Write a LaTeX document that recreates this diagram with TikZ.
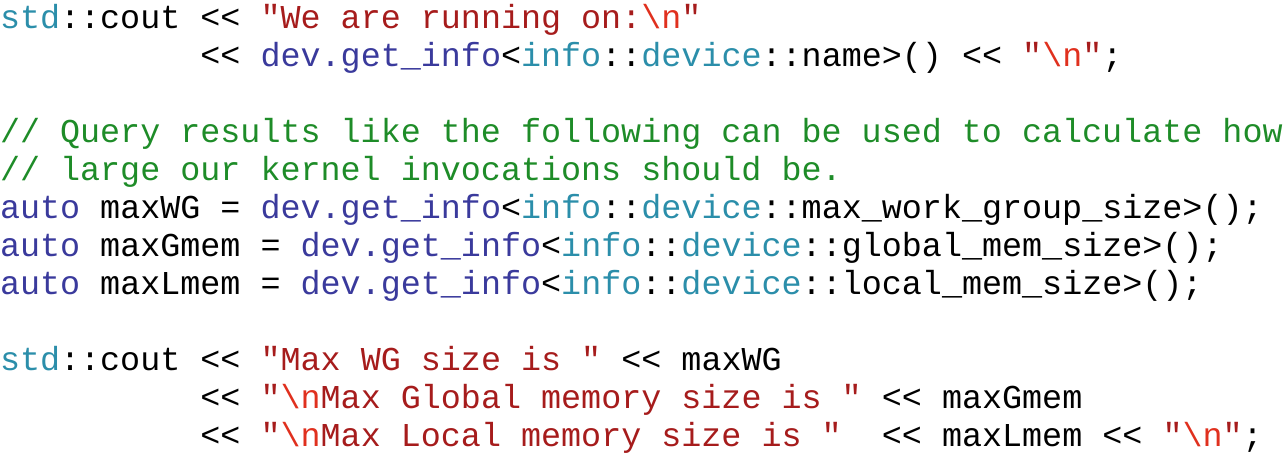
\documentclass[tikz,border=0pt]{standalone}
\usepackage{fontspec}
\newfontfamily\codefont{Liberation Mono}
\definecolor{cteal}{HTML}{2B8EAA}
\definecolor{cblue}{HTML}{3A3A9C}
\definecolor{cstr}{HTML}{A61C1C}
\definecolor{cesc}{HTML}{E0301E}
\definecolor{ccom}{HTML}{1E8C28}
\newcommand{\ty}[1]{\textcolor{cteal}{#1}}
\newcommand{\kw}[1]{\textcolor{cblue}{#1}}
\newcommand{\st}[1]{\textcolor{cstr}{#1}}
\newcommand{\es}{\textcolor{cesc}{\textbackslash n}}
\newcommand{\cm}[1]{\textcolor{ccom}{#1}}
\tikzset{codeline/.style={anchor=base west, inner sep=0pt, outer sep=0pt, text=black,
  font=\codefont\fontsize{33.4}{38}\selectfont}}
\begin{document}
\begin{tikzpicture}[x=1pt,y=1pt]
\useasboundingbox (0,0) rectangle (1284,-467);
\node[codeline] (l1) at (0,-28.5) {\ty{std}::cout~<<~\st{"We~are~running~on:}\es\st{"}};
\node[codeline] (l2) at (0,-66.5) {~~~~~~~~~~<<~\kw{dev.get\_info}<\ty{info}::\ty{device}::name>()~<<~\st{"}\es\st{"};};
\node[codeline] (l4) at (0,-142.5) {\cm{//~Query~results~like~the~following~can~be~used~to~calculate~how}};
\node[codeline] (l5) at (0,-180.5) {\cm{//~large~our~kernel~invocations~should~be.}};
\node[codeline] (l6) at (0,-218.5) {\kw{auto}~maxWG~=~\kw{dev.get\_info}<\ty{info}::\ty{device}::max\_work\_group\_size>();};
\node[codeline] (l7) at (0,-256.5) {\kw{auto}~maxGmem~=~\kw{dev.get\_info}<\ty{info}::\ty{device}::global\_mem\_size>();};
\node[codeline] (l8) at (0,-294.5) {\kw{auto}~maxLmem~=~\kw{dev.get\_info}<\ty{info}::\ty{device}::local\_mem\_size>();};
\node[codeline] (l10) at (0,-370.5) {\ty{std}::cout~<<~\st{"Max~WG~size~is~"}~<<~maxWG};
\node[codeline] (l11) at (0,-408.5) {~~~~~~~~~~<<~\st{"}\es\st{Max~Global~memory~size~is~"}~<<~maxGmem};
\node[codeline] (l12) at (0,-446.5) {~~~~~~~~~~<<~\st{"}\es\st{Max~Local~memory~size~is~"}~~<<~maxLmem~<<~\st{"}\es\st{"};};
\end{tikzpicture}
\end{document}
